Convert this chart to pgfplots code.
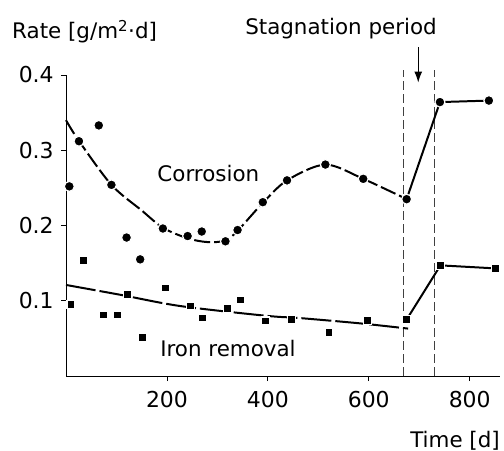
\documentclass[border=0pt]{standalone}
\usepackage{fontspec}
\setmainfont{DejaVu Sans}
\usepackage{pgfplots}
\pgfplotsset{compat=1.18}
\usetikzlibrary{arrows.meta}
\begin{document}
\fontsize{21.5}{25}\selectfont
\begin{tikzpicture}
\useasboundingbox (-66bp,-75bp) rectangle (438bp,376bp);
\begin{axis}[
  at={(0,0)}, anchor=south west,
  scale only axis, width=434bp, height=301bp,
  xmin=0, xmax=860, ymin=0, ymax=0.4,
  axis x line=bottom, axis y line=left,
  axis line style={-, line width=0.9pt},
  xtick={200,400,600,800}, ytick={0.1,0.2,0.3,0.4},
  yticklabels={0.1,0.2,0.3,0.4},
  tick align=outside, major tick length=5bp,
  tick style={black, line width=0.8pt},
  /pgf/number format/assume math mode=true,
  ticklabel style={font=\fontsize{22}{26}\selectfont},
  xticklabel style={yshift=-3bp},
  clip=false,
]
% vertical dashed lines
\addplot[black!75, line width=0.5pt, dash pattern=on 9bp off 4bp] coordinates {(669,0) (669,0.406)};
\addplot[black!75, line width=0.5pt, dash pattern=on 9bp off 4bp] coordinates {(729,0) (729,0.406)};
% corrosion fit
\addplot[black, line width=2pt, smooth, dash pattern=on 16bp off 4bp] coordinates {
 (0,0.340) (25,0.313) (90,0.254) (150,0.220) (192,0.197) (241,0.183) (280,0.178) (316,0.180)
 (340,0.193) (390,0.230) (438,0.260) (514,0.281) (589,0.262) (675,0.235)};
\addplot[black, line width=2pt] coordinates {(675,0.235) (741,0.364) (838,0.366)};
% iron removal fit
\addplot[black, line width=2pt, smooth, dash pattern=on 30bp off 4bp] coordinates {
 (0,0.121) (107,0.108) (226,0.093) (397,0.080) (463,0.077) (582,0.070) (678,0.063)};
\addplot[black, line width=2pt] coordinates {(675,0.075) (742,0.147) (851,0.143)};
% corrosion data
\addplot[only marks, mark=*, mark size=5bp, mark options={fill=black, draw=white, line width=1.2pt}] coordinates {
 (6.6,0.252) (25.7,0.312) (65,0.333) (90,0.254) (120,0.184) (147,0.155) (192,0.196)
 (241,0.186) (269,0.192) (316,0.179) (340,0.194) (390,0.231) (438,0.260) (514,0.281)
 (589,0.262) (675,0.235) (741,0.364) (838,0.366)};
% iron removal data
\addplot[only marks, mark=square*, mark size=4bp, mark options={fill=black, draw=white, line width=1.2pt}] coordinates {
 (10,0.095) (34,0.153) (74,0.081) (102,0.081) (122,0.108) (152,0.051) (197,0.117)
 (247,0.093) (271,0.077) (320,0.090) (346,0.101) (396,0.073) (447,0.075) (521,0.058)
 (597,0.074) (675,0.075) (742,0.147) (851,0.143)};
\node at (axis cs:282,0.269) {Corrosion};
\node at (axis cs:321,0.037) {Iron removal};
\draw[line width=1pt, -{Latex[length=11bp,width=8bp]}] (axis cs:698,0.437) -- (axis cs:698,0.390);
\end{axis}
\node[anchor=base west, inner sep=0pt] at (-54bp,337bp) {Rate [g/m\textsuperscript{2}·d]};
\node[anchor=base, inner sep=0pt] at (275bp,341bp) {Stagnation period};
\node[anchor=base east, inner sep=0pt] at (434bp,-71bp) {Time [d]};
\end{tikzpicture}
\end{document}
